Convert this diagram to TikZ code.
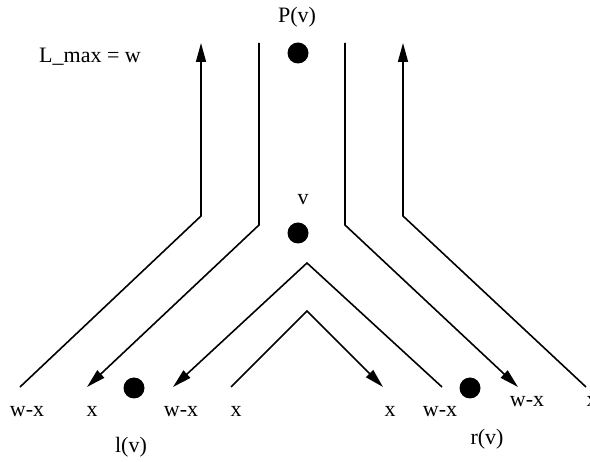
\documentclass[tikz,border=0pt]{standalone}
\usepackage{fontspec}
\setmainfont{Liberation Serif}
\usetikzlibrary{arrows.meta}

\begin{document}
\begin{tikzpicture}[
        x=1pt, y=-1pt,
        dot/.style={circle, fill=black, inner sep=0pt, minimum size=21pt},
        lbl/.style={anchor=base, inner sep=0pt, font=\fontsize{22}{26}\selectfont},
        wire/.style={line width=1.6pt},
        flow/.style={wire, -{Triangle[length=19pt, width=10pt]}}
      ]
        \useasboundingbox (0,0) rectangle (590,462);

        % tree vertices
        \node[dot] (pv) at (298,53) {};
        \node[dot] (v) at (298,233) {};
        \node[dot] (lv) at (134,388) {};
        \node[dot] (rv) at (470,388) {};

        \node[lbl] (pvname) at (297,23) {P(v)};
        \node[lbl] (vname) at (303,205) {v};
        \node[lbl] (lvname) at (131,453) {l(v)};
        \node[lbl] (rvname) at (487,445) {r(v)};
        \node[lbl] (lmax) at (90,63) {L\_max = w};

        % end labels
        \node[lbl] (a1) at (27,417) {w-x};
        \node[lbl] (a2) at (92,417) {x};
        \node[lbl] (a3) at (181,417) {w-x};
        \node[lbl] (a4) at (236,417) {x};
        \node[lbl] (a5) at (390,417) {x};
        \node[lbl] (a6) at (440,417) {w-x};
        \node[lbl] (a7) at (527,407) {w-x};
        \node[lbl] (a8) at (592,407) {x};

        % path corners and free ends
        \coordinate (lo0) at (20,387);   \coordinate (lo1) at (201,216);  \coordinate (lo2) at (201,43);
        \coordinate (li0) at (259,43);   \coordinate (li1) at (259,225);  \coordinate (li2) at (87,387);
        \coordinate (ri0) at (345,43);   \coordinate (ri1) at (345,225);  \coordinate (ri2) at (518,387);
        \coordinate (ro0) at (586,387);  \coordinate (ro1) at (403,216);  \coordinate (ro2) at (403,43);
        \coordinate (va) at (442,387);   \coordinate (vb) at (307,263);   \coordinate (vc) at (173,387);
        \coordinate (wa) at (231,387);   \coordinate (wb) at (307,311);   \coordinate (wc) at (383,387);

        \draw[flow] (lo0) -- (lo1) -- (lo2);
        \draw[flow] (li0) -- (li1) -- (li2);
        \draw[flow] (ri0) -- (ri1) -- (ri2);
        \draw[flow] (ro0) -- (ro1) -- (ro2);
        \draw[flow] (va) -- (vb) -- (vc);
        \draw[flow] (wa) -- (wb) -- (wc);
      \end{tikzpicture}
\end{document}
